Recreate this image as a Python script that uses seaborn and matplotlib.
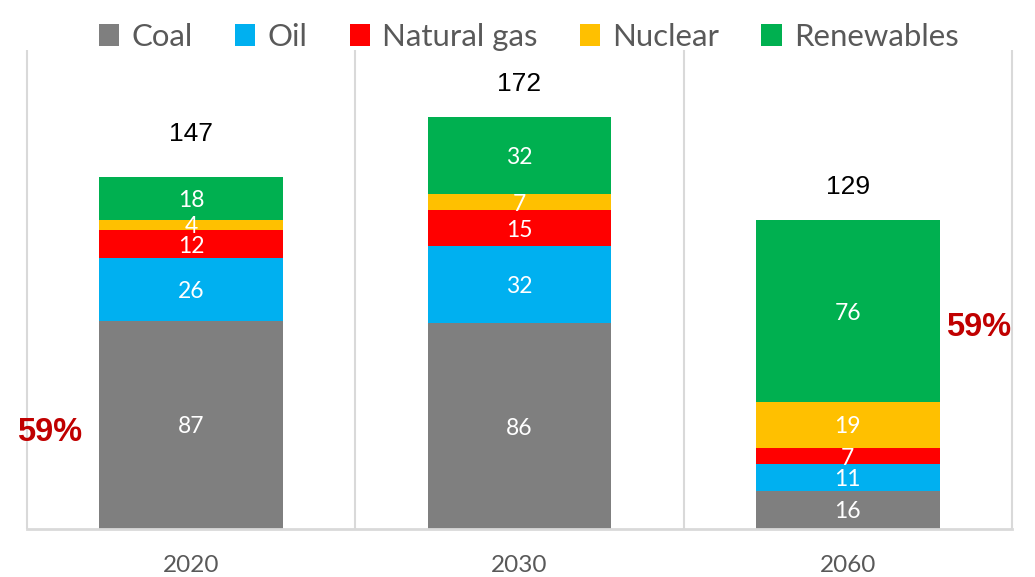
import matplotlib
matplotlib.use("Agg")
import matplotlib.pyplot as plt
from matplotlib.patches import Patch
import seaborn as sns
import numpy as np

# ---- data ----
years = ["2020", "2030", "2060"]
sources = ["Coal", "Oil", "Natural gas", "Nuclear", "Renewables"]
coal = [87, 86, 16]
oil = [26, 32, 11]
gas = [12, 15, 7]
nuclear = [4, 7, 19]
renewables = [18, 32, 76]
totals = [147, 172, 129]
share_label = "59%"

colors = ["#7F7F7F", "#00B0F0", "#FF0000", "#FFC000", "#00B050"]

sns.set_theme(style="white")
plt.rcParams['font.family'] = ['Lato', 'DejaVu Sans']

fig = plt.figure(figsize=(10.35, 5.77), dpi=100)
ax = fig.add_axes([27/1035, 1-529/577, (1012-27)/1035, (529-50)/577])

layers = [coal, oil, gas, nuclear, renewables]
bottom = np.zeros(len(years))
for name, vals, col in zip(sources, layers, colors):
    sns.barplot(x=years, y=vals, bottom=bottom, color=col, saturation=1,
                width=0.56, errorbar=None, linewidth=0, ax=ax)
    for i, v in enumerate(vals):
        ax.annotate(str(v), (i, bottom[i] + v / 2), xytext=(0, -1.5),
                    textcoords='offset points', ha='center', va='center',
                    color='white', fontsize=16.5, family=['Lato', 'DejaVu Sans'])
    bottom = bottom + np.array(vals)

# totals above bars
total_pad = [22, 15, 15]
for i, t in enumerate(totals):
    ax.annotate(str(t), (i, bottom[i]), xytext=(0, total_pad[i]),
                textcoords='offset points', ha='center', va='bottom',
                fontsize=19, color='black', family=['Liberation Sans', 'DejaVu Sans'])

# share annotations
ax.text(-0.43, 40.5, share_label, ha='center', va='center', color='#C00000',
        fontsize=23.5, fontweight='bold', family=['Liberation Sans', 'DejaVu Sans'])
ax.text(2.397, 84.3, share_label, ha='center', va='center', color='#C00000',
        fontsize=23.5, fontweight='bold', family=['Liberation Sans', 'DejaVu Sans'])

# separators
ax.vlines([-0.5, 0.5, 1.5, 2.5], 0, 200, color='#D9D9D9', lw=1.5, clip_on=False, zorder=0)

ax.set_xlim(-0.5, 2.5)
ax.set_ylim(0, 200)
ax.set_yticks([])
ax.set_ylabel('')
ax.set_xlabel('')
for s in ['top', 'left', 'right']:
    ax.spines[s].set_visible(False)
ax.spines['bottom'].set_color('#D9D9D9')
ax.spines['bottom'].set_linewidth(2)
ax.tick_params(axis='x', length=0, pad=19, labelsize=17.5, labelcolor='#595959')

handles = [Patch(facecolor=c, edgecolor='none') for c in colors]
fig.legend(handles, sources, loc='center', bbox_to_anchor=(529/1035, 1-37/577),
           ncol=5, frameon=False, fontsize=22.4, handlelength=0.65, handleheight=0.68,
           handletextpad=0.4, columnspacing=1.35, labelcolor='#595959')

fig.savefig('out.png', dpi=100)
